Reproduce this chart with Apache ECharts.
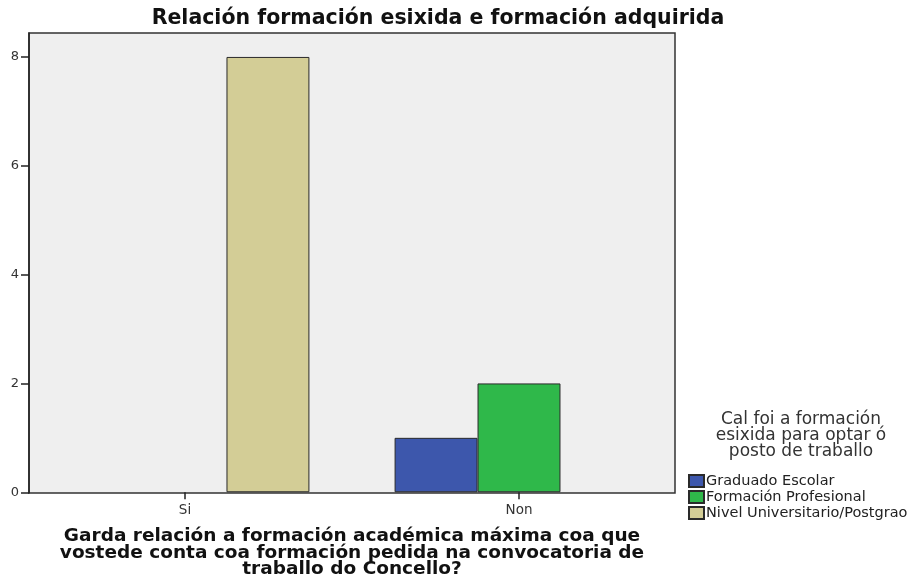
<!DOCTYPE html>
<html><head><meta charset="utf-8">
<script src="https://cdn.jsdelivr.net/npm/echarts@6/dist/echarts.min.js"></script>
<style>html,body{margin:0;padding:0;background:#fff}#c{width:908px;height:584px}</style>
</head><body><div id="c"></div>
<script>
const categories = ['Si', 'Non'];
const seriesNames = ['Graduado Escolar', 'Formación Profesional', 'Nivel Universitario/Postgrao'];
const graduadoEscolar = [0, 1];
const formacionProfesional = [0, 2];
const nivelUniversitario = [8, 0];
const yTicks = [0, 2, 4, 6, 8];

const colors = ['#3d57ac', '#2fb84a', '#d3cd96'];
const values = [graduadoEscolar, formacionProfesional, nivelUniversitario];
const FONT = '"DejaVu Sans", sans-serif';
const yMax = 8.44;

const chart = echarts.init(document.getElementById('c'), null, {renderer: 'canvas'});
chart.setOption({
  animation: false,
  backgroundColor: '#fff',
  title: [
    {text: 'Relación formación esixida e formación adquirida', left: 433, textAlign: 'center', top: 3,
     textStyle: {fontFamily: FONT, fontSize: 20.5, fontWeight: 'bold', color: '#111'}},
    {text: 'Cal foi a formación\nesixida para optar ó\nposto de traballo', left: 796, textAlign: 'center', top: 407,
     textStyle: {fontFamily: FONT, fontSize: 17, fontWeight: 'normal', color: '#333', lineHeight: 16}}
  ],
  grid: [
    {left: 29, right: 233, top: 33, bottom: 91, show: true, backgroundColor: '#efefef', borderColor: '#333', borderWidth: 1.5},
    {left: 18, right: 222, top: 33, bottom: 91, show: false}
  ],
  xAxis: [
    {gridIndex: 0, type: 'category', data: categories, show: false},
    {gridIndex: 1, type: 'category', data: categories,
     axisLine: {show: false},
     axisTick: {show: true, alignWithLabel: true, length: 7, lineStyle: {color: '#222', width: 1.5}},
     axisLabel: {fontFamily: FONT, fontSize: 13.5, color: '#333', margin: 11},
     name: 'Garda relación a formación académica máxima coa que\nvostede conta coa formación pedida na convocatoria de\ntraballo do Concello?',
     nameLocation: 'middle', nameGap: 36,
     nameTextStyle: {fontFamily: FONT, fontSize: 18.5, fontWeight: 'bold', color: '#111', lineHeight: 16.5, verticalAlign: 'top'}}
  ],
  yAxis: [
    {gridIndex: 0, type: 'value', min: 0, max: yMax, interval: 2,
     axisLine: {show: true, lineStyle: {color: '#222', width: 1.5}},
     axisTick: {show: true, length: 8, lineStyle: {color: '#222', width: 1.5}},
     axisLabel: {fontFamily: FONT, fontSize: 13, color: '#333', margin: 10, showMaxLabel: false,
       formatter: v => (yTicks.indexOf(v) >= 0 ? String(v) : '')},
     splitLine: {show: false}},
    {gridIndex: 1, type: 'value', min: 0, max: yMax, show: false, splitLine: {show: false}}
  ],
  legend: {
    orient: 'vertical', left: 683, top: 468, itemWidth: 15, itemHeight: 12, itemGap: 0,
    icon: 'rect', data: seriesNames,
    textStyle: {fontFamily: FONT, fontSize: 14.5, color: '#222', lineHeight: 16, padding: [0, 0, 0, -3]}
  },
  series: seriesNames.map((n, i) => ({
    name: n, type: 'bar', xAxisIndex: 1, yAxisIndex: 1,
    data: values[i].map(v => ({value: v, itemStyle: v === 0 ? {borderWidth: 0} : {}})),
    barGap: '0%', barCategoryGap: '25.5%',
    itemStyle: {color: colors[i], borderColor: '#2a2a2a', borderWidth: 1}
  }))
});
</script></body></html>
